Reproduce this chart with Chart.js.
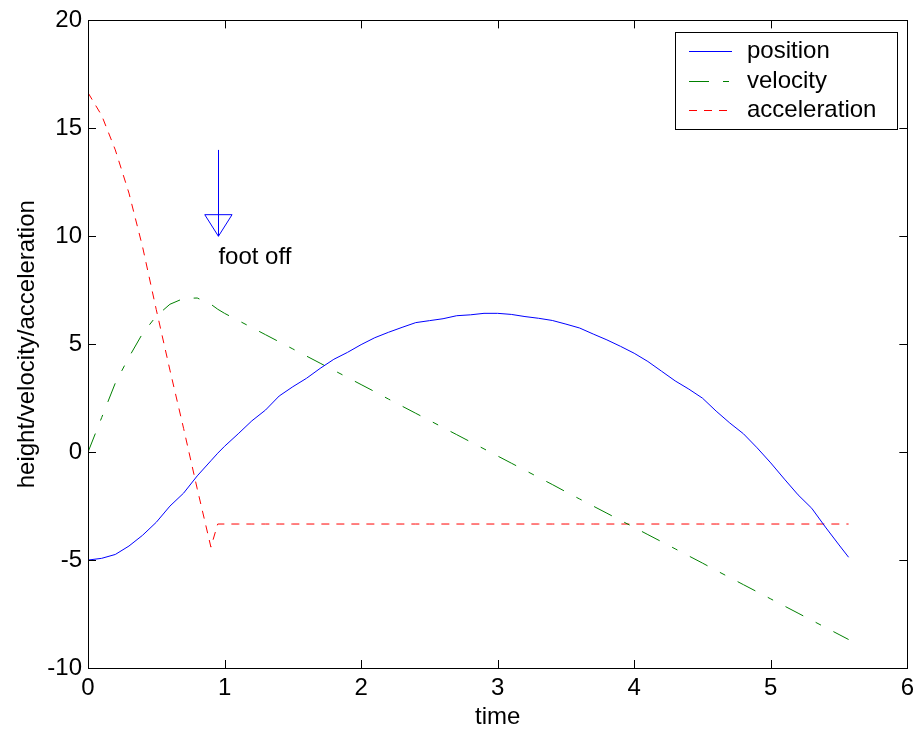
<!DOCTYPE html>
<html>
<head>
<meta charset="utf-8">
<script src="https://cdn.jsdelivr.net/npm/chart.js@4/dist/chart.umd.min.js"></script>
<style>
    body { margin: 0; background: #fff; }
</style>
</head>
<body>
<canvas id="motion" width="920" height="734"></canvas>
<script>
const time = [0, 0.1, 0.2, 0.3, 0.4, 0.5, 0.6, 0.7, 0.8, 0.9, 0.95,
    1.0, 1.1, 1.2, 1.3, 1.4, 1.5, 1.6, 1.7, 1.8, 1.9,
    2.0, 2.1, 2.2, 2.3, 2.4, 2.5, 2.6, 2.7, 2.8, 2.9,
    3.0, 3.1, 3.2, 3.3, 3.4, 3.5, 3.6, 3.7, 3.8, 3.9,
    4.0, 4.1, 4.2, 4.3, 4.4, 4.5, 4.6, 4.7, 4.8, 4.9,
    5.0, 5.1, 5.2, 5.3, 5.4, 5.5, 5.57];

const position = [-5.0, -4.92, -4.74, -4.35, -3.85, -3.25, -2.5, -1.9, -1.1, -0.4, -0.05,
    0.27, 0.85, 1.45, 1.95, 2.6, 3.03, 3.42, 3.88, 4.3, 4.62,
    4.98, 5.3, 5.55, 5.78, 6.0, 6.09, 6.18, 6.32, 6.36, 6.43,
    6.43, 6.38, 6.28, 6.2, 6.1, 5.93, 5.75, 5.47, 5.2, 4.9,
    4.58, 4.2, 3.75, 3.3, 2.92, 2.5, 1.9, 1.35, 0.85, 0.2,
    -0.5, -1.25, -1.98, -2.6, -3.47, -4.3, -4.87];

const velocity = [0, 1.6, 3.2, 4.4, 5.5, 6.3, 6.85, 7.12, 7.14, 6.85, 6.62,
    6.43, 6.1, 5.77, 5.44, 5.11, 4.78, 4.45, 4.12, 3.79, 3.46,
    3.13, 2.8, 2.46, 2.13, 1.8, 1.47, 1.14, 0.81, 0.48, 0.15,
    -0.18, -0.51, -0.84, -1.17, -1.5, -1.84, -2.17, -2.5, -2.83, -3.16,
    -3.49, -3.82, -4.15, -4.48, -4.81, -5.14, -5.48, -5.81, -6.14, -6.47,
    -6.8, -7.13, -7.46, -7.79, -8.12, -8.45, -8.68];

const acceleration = [16.65, 15.6, 14.0, 12.0, 9.5, 6.6, 3.8, 1.1, -1.7, -4.4, -3.33,
    -3.33, -3.33, -3.33, -3.33, -3.33, -3.33, -3.33, -3.33, -3.33, -3.33,
    -3.33, -3.33, -3.33, -3.33, -3.33, -3.33, -3.33, -3.33, -3.33, -3.33,
    -3.33, -3.33, -3.33, -3.33, -3.33, -3.33, -3.33, -3.33, -3.33, -3.33,
    -3.33, -3.33, -3.33, -3.33, -3.33, -3.33, -3.33, -3.33, -3.33, -3.33,
    -3.33, -3.33, -3.33, -3.33, -3.33, -3.33, -3.33];

const xTicks = [0, 1, 2, 3, 4, 5, 6];
const yTicks = [-10, -5, 0, 5, 10, 15, 20];

// foot off marker, in data units
const arrowX = 0.955;
const arrowTop = 14;
const arrowTip = 10;
const arrowHead = [[0.855, 11], [1.055, 11], [0.955, 10]];
const noteText = 'foot off';
const noteAt = [0.955, 8.7];

const BLUE = 'rgb(0,0,255)';
const GREEN = 'rgb(0,128,0)';
const RED = 'rgb(255,0,0)';
const DASH_DOT = [20, 14, 6, 14];
const DASHED = [8, 7];

const FONT = '"Liberation Sans", Arial, sans-serif';
Chart.defaults.font.family = FONT;
Chart.defaults.font.size = 24;
Chart.defaults.color = '#000';

function pts(values) {
    return time.map((t, i) => ({ x: t, y: values[i] }));
}

const legendRows = [
    { text: 'position', color: BLUE, dash: [] },
    { text: 'velocity', color: GREEN, dash: DASH_DOT },
    { text: 'acceleration', color: RED, dash: DASHED }
];

const matlabFrame = {
    id: 'matlabFrame',
    afterDraw(chart) {
        const ctx = chart.ctx;
        const a = chart.chartArea;
        const xs = chart.scales.x;
        const ys = chart.scales.y;
        ctx.save();

        // axes box and inward ticks
        ctx.strokeStyle = '#000';
        ctx.lineWidth = 1;
        ctx.setLineDash([]);
        ctx.strokeRect(Math.round(a.left) + 0.5, Math.round(a.top) + 0.5,
            Math.round(a.right - a.left), Math.round(a.bottom - a.top));
        ctx.beginPath();
        xTicks.forEach(v => {
            const px = Math.round(xs.getPixelForValue(v)) + 0.5;
            ctx.moveTo(px, a.bottom);
            ctx.lineTo(px, a.bottom - 8);
            ctx.moveTo(px, a.top);
            ctx.lineTo(px, a.top + 8);
        });
        yTicks.forEach(v => {
            const py = Math.round(ys.getPixelForValue(v)) + 0.5;
            ctx.moveTo(a.left, py);
            ctx.lineTo(a.left + 8, py);
            ctx.moveTo(a.right, py);
            ctx.lineTo(a.right - 8, py);
        });
        ctx.stroke();

        // foot off arrow
        ctx.strokeStyle = BLUE;
        const ax = Math.round(xs.getPixelForValue(arrowX)) + 0.5;
        ctx.beginPath();
        ctx.moveTo(ax, ys.getPixelForValue(arrowTop));
        ctx.lineTo(ax, ys.getPixelForValue(arrowTip));
        ctx.stroke();
        ctx.beginPath();
        arrowHead.forEach((p, i) => {
            const hx = xs.getPixelForValue(p[0]);
            const hy = ys.getPixelForValue(p[1]);
            if (i === 0) ctx.moveTo(hx, hy); else ctx.lineTo(hx, hy);
        });
        ctx.closePath();
        ctx.stroke();

        ctx.fillStyle = '#000';
        ctx.font = '24px ' + FONT;
        ctx.textAlign = 'left';
        ctx.textBaseline = 'alphabetic';
        ctx.fillText(noteText, xs.getPixelForValue(noteAt[0]), ys.getPixelForValue(noteAt[1]));

        // legend box
        const lx = 675, ly = 32, lw = 222, lh = 97;
        ctx.fillStyle = '#fff';
        ctx.fillRect(lx, ly, lw, lh);
        ctx.strokeStyle = '#000';
        ctx.strokeRect(lx + 0.5, ly + 0.5, lw, lh);
        ctx.textBaseline = 'middle';
        legendRows.forEach((row, i) => {
            const yy = Math.round(ly + 19 + i * 29.5) + 0.5;
            ctx.strokeStyle = row.color;
            ctx.setLineDash(row.dash);
            ctx.beginPath();
            ctx.moveTo(689, yy);
            ctx.lineTo(732, yy);
            ctx.stroke();
            ctx.setLineDash([]);
            ctx.fillStyle = '#000';
            ctx.fillText(row.text, 747, yy);
        });
        ctx.restore();
    }
};

new Chart(document.getElementById('motion').getContext('2d'), {
    type: 'line',
    data: {
        datasets: [{
            label: 'position',
            data: pts(position),
            borderColor: BLUE,
            borderWidth: 1,
            pointRadius: 0
        }, {
            label: 'velocity',
            data: pts(velocity),
            borderColor: GREEN,
            borderWidth: 1,
            borderDash: DASH_DOT,
            pointRadius: 0
        }, {
            label: 'acceleration',
            data: pts(acceleration),
            borderColor: RED,
            borderWidth: 1,
            borderDash: DASHED,
            pointRadius: 0
        }]
    },
    options: {
        responsive: false,
        animation: false,
        layout: {
            padding: { top: 19, right: 12, left: 0, bottom: 0 }
        },
        scales: {
            x: {
                type: 'linear',
                min: 0,
                max: 6,
                afterFit: s => { s.height = 66; },
                ticks: { stepSize: 1, padding: 6, color: '#000' },
                grid: { display: false, drawTicks: false },
                border: { display: false },
                title: {
                    display: true,
                    text: 'time',
                    color: '#000',
                    padding: { top: 0, bottom: 2 }
                }
            },
            y: {
                min: -10,
                max: 20,
                afterFit: s => { s.width = 88; },
                ticks: { stepSize: 5, padding: 6, color: '#000' },
                grid: { display: false, drawTicks: false },
                border: { display: false },
                title: {
                    display: true,
                    text: 'height/velocity/acceleration',
                    color: '#000',
                    padding: { top: 13, bottom: 0 }
                }
            }
        },
        plugins: {
            legend: { display: false },
            tooltip: { enabled: false }
        }
    },
    plugins: [matlabFrame]
});
</script>
</body>
</html>
